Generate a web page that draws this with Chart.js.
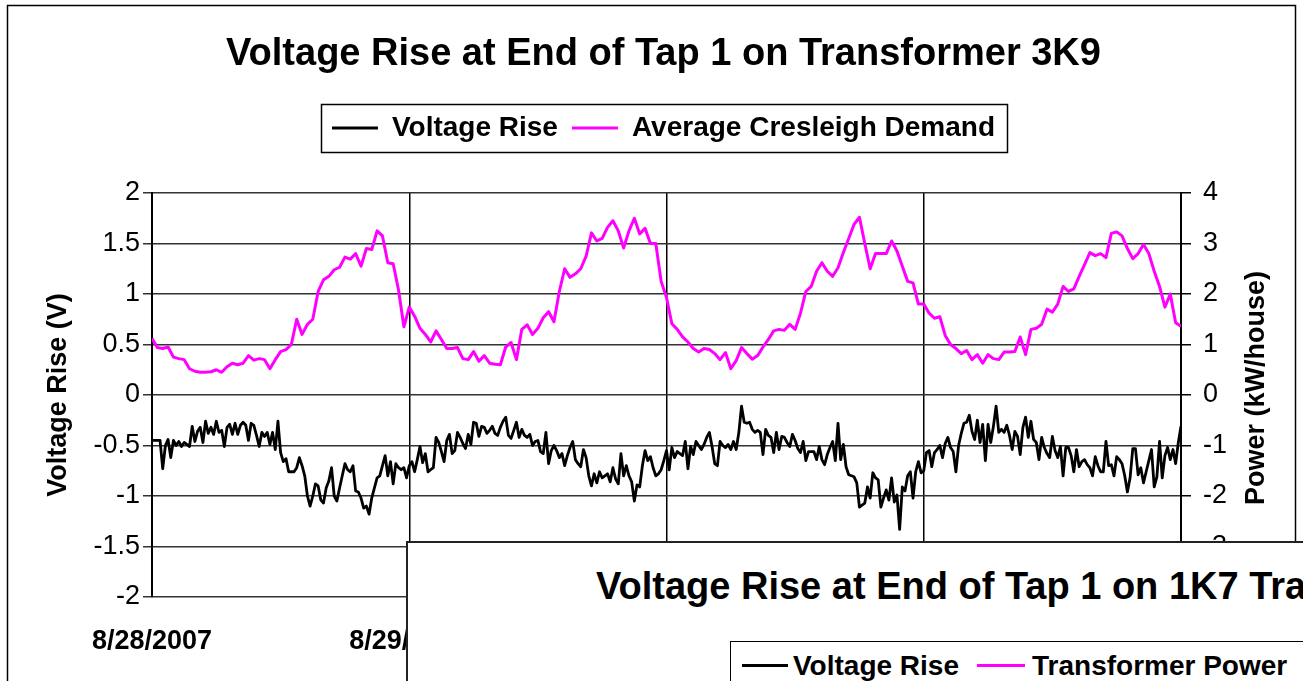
<!DOCTYPE html>
<html>
<head>
<meta charset="utf-8">
<script src="https://cdn.jsdelivr.net/npm/chart.js@4.4.1/dist/chart.umd.min.js"></script>
<style>
  html, body { margin: 0; padding: 0; background: #fff; }
  #wrap { position: relative; width: 1303px; height: 681px; overflow: hidden; }
  #c { position: absolute; left: 0; top: 0; }
  #overlay { position: absolute; left: 406px; top: 541px; width: 1000px; height: 200px;
             background: #fff; border-top: 2px solid #222; border-left: 2px solid #222; box-sizing: border-box;
             font-family: 'Liberation Sans', Arial, Helvetica, sans-serif; color: #000; }
  #ov-title { position: absolute; left: 188px; top: 21px; font-size: 38px; font-weight: bold; line-height: 44px; white-space: nowrap; }
  #ov-legend { position: absolute; left: 322px; top: 98px; width: 575px; height: 80px; border: 1.5px solid #000; box-sizing: border-box; }
  .ov-item { position: absolute; top: 8px; font-size: 28px; font-weight: bold; line-height: 32px; white-space: nowrap; }
  .ov-line { position: absolute; top: 22px; height: 3px; }
</style>
</head>
<body>
<div id="wrap">
  <canvas id="c" width="1303" height="681"></canvas>
  <div id="overlay">
    <div id="ov-title">Voltage Rise at End of Tap 1 on 1K7 Transformer</div>
    <div id="ov-legend">
      <div class="ov-line" style="left:11px;width:46px;background:#000"></div>
      <div class="ov-item" style="left:62px">Voltage Rise</div>
      <div class="ov-line" style="left:246px;width:48px;background:#ff00ff"></div>
      <div class="ov-item" style="left:301px">Transformer Power</div>
    </div>
  </div>
</div>
<script>
const FONT = "'Liberation Sans', Arial, Helvetica, sans-serif";
const chartTitle = 'Voltage Rise at End of Tap 1 on Transformer 3K9';
const seriesNames = ['Voltage Rise', 'Average Cresleigh Demand'];
const dateLabels = ['8/28/2007', '8/29/2007', '8/30/2007', '8/31/2007', '9/1/2007'];
const voltageStepHours = 0.25;   // 15-minute readings
const demandStepHours = 0.5;     // 30-minute readings

// Voltage rise (V), every 15 minutes from 8/28/2007 00:00 to 9/1/2007 00:00
const voltageRise = [
  // 8/28
  -0.45,-0.45,-0.45,-0.45,-0.73,-0.50,-0.44,-0.62,-0.45,-0.50,
  -0.46,-0.51,-0.47,-0.49,-0.51,-0.31,-0.46,-0.36,-0.32,-0.47,
  -0.26,-0.38,-0.32,-0.39,-0.26,-0.37,-0.35,-0.51,-0.32,-0.29,
  -0.39,-0.28,-0.39,-0.30,-0.27,-0.30,-0.45,-0.28,-0.30,-0.40,
  -0.51,-0.37,-0.41,-0.37,-0.49,-0.37,-0.54,-0.26,-0.57,-0.66,
  -0.63,-0.76,-0.76,-0.76,-0.72,-0.62,-0.70,-0.80,-1.00,-1.10,
  -1.00,-0.88,-0.90,-1.04,-1.07,-0.92,-0.85,-0.72,-1.00,-1.05,
  -0.92,-0.80,-0.68,-0.74,-0.76,-0.70,-0.95,-0.96,-1.02,-1.12,
  -1.10,-1.18,-1.02,-0.92,-0.82,-0.80,-0.70,-0.60,-0.80,-0.66,
  -0.88,-0.68,-0.72,-0.74,-0.72,-0.82,
  // 8/29
  -0.70,-0.66,-0.76,-0.64,-0.51,-0.67,-0.58,-0.76,-0.74,-0.72,
  -0.42,-0.47,-0.56,-0.66,-0.45,-0.39,-0.58,-0.55,-0.37,-0.42,
  -0.48,-0.53,-0.39,-0.49,-0.27,-0.28,-0.41,-0.31,-0.32,-0.38,
  -0.35,-0.31,-0.38,-0.40,-0.32,-0.26,-0.22,-0.40,-0.43,-0.35,
  -0.27,-0.42,-0.34,-0.40,-0.42,-0.39,-0.50,-0.46,-0.45,-0.56,
  -0.58,-0.37,-0.68,-0.55,-0.50,-0.55,-0.62,-0.58,-0.70,-0.60,
  -0.52,-0.46,-0.64,-0.68,-0.71,-0.54,-0.62,-0.80,-0.90,-0.78,
  -0.87,-0.76,-0.82,-0.80,-0.78,-0.86,-0.72,-0.83,-0.88,-0.58,
  -0.80,-0.70,-0.80,-0.86,-1.05,-0.89,-0.91,-0.70,-0.55,-0.65,
  -0.61,-0.72,-0.80,-0.78,-0.74,-0.65,
  // 8/30
  -0.55,-0.74,-0.52,-0.62,-0.56,-0.58,-0.60,-0.46,-0.73,-0.51,
  -0.59,-0.46,-0.50,-0.54,-0.49,-0.42,-0.37,-0.51,-0.68,-0.70,
  -0.46,-0.50,-0.52,-0.49,-0.54,-0.46,-0.54,-0.37,-0.11,-0.27,
  -0.28,-0.27,-0.34,-0.37,-0.35,-0.37,-0.59,-0.34,-0.40,-0.42,
  -0.57,-0.37,-0.54,-0.41,-0.42,-0.47,-0.51,-0.39,-0.45,-0.53,
  -0.57,-0.46,-0.65,-0.56,-0.56,-0.56,-0.64,-0.51,-0.64,-0.69,
  -0.59,-0.52,-0.46,-0.65,-0.28,-0.64,-0.49,-0.71,-0.79,-0.80,
  -0.81,-0.87,-1.11,-1.09,-1.07,-0.91,-1.02,-0.77,-0.82,-0.84,
  -1.11,-1.02,-0.94,-1.04,-0.82,-1.06,-0.99,-1.33,-0.91,-0.95,
  -0.80,-0.76,-1.02,-0.76,-0.66,-0.77,
  // 8/31
  -0.75,-0.57,-0.55,-0.71,-0.57,-0.54,-0.50,-0.62,-0.48,-0.42,
  -0.52,-0.56,-0.76,-0.50,-0.38,-0.28,-0.27,-0.20,-0.36,-0.44,
  -0.25,-0.47,-0.29,-0.65,-0.29,-0.47,-0.31,-0.11,-0.37,-0.34,
  -0.37,-0.30,-0.40,-0.54,-0.36,-0.41,-0.59,-0.32,-0.22,-0.42,
  -0.26,-0.44,-0.47,-0.64,-0.42,-0.52,-0.58,-0.62,-0.41,-0.55,
  -0.62,-0.51,-0.80,-0.52,-0.52,-0.60,-0.76,-0.54,-0.71,-0.66,
  -0.64,-0.69,-0.72,-0.80,-0.61,-0.70,-0.76,-0.76,-0.46,-0.70,
  -0.69,-0.80,-0.61,-0.64,-0.68,-0.80,-0.96,-0.82,-0.53,-0.53,
  -0.79,-0.72,-0.87,-0.76,-0.65,-0.54,-0.91,-0.81,-0.46,-0.82,
  -0.60,-0.52,-0.64,-0.54,-0.68,-0.47,-0.31
];

// Average Cresleigh demand (kW/house), every 30 minutes
const avgDemand = [
  1.12,0.94,0.92,0.95,0.75,0.72,0.70,0.52,0.47,0.45,
  0.45,0.46,0.50,0.45,0.56,0.63,0.60,0.63,0.78,0.69,
  0.72,0.70,0.52,0.70,0.86,0.90,1.00,1.50,1.20,1.40,
  1.50,2.05,2.28,2.35,2.48,2.53,2.73,2.69,2.80,2.55,
  2.90,2.88,3.25,3.15,2.62,2.60,2.08,1.35,
  1.74,1.56,1.32,1.20,1.05,1.27,1.10,0.92,0.92,0.94,
  0.72,0.70,0.86,0.67,0.78,0.63,0.61,0.60,0.95,1.04,
  0.70,1.30,1.39,1.20,1.32,1.53,1.65,1.45,2.05,2.50,
  2.33,2.40,2.50,2.75,3.21,3.05,3.10,3.32,3.45,3.25,
  2.91,3.25,3.50,3.19,3.30,3.00,3.00,2.25,
  1.93,1.41,1.30,1.15,1.05,0.92,0.85,0.92,0.90,0.82,
  0.70,0.84,0.52,0.68,0.94,0.82,0.71,0.78,0.95,1.10,
  1.27,1.30,1.28,1.40,1.30,1.62,2.05,2.15,2.45,2.62,
  2.45,2.35,2.52,2.82,3.10,3.38,3.52,3.00,2.50,2.80,
  2.80,2.80,3.05,2.85,2.55,2.25,2.22,1.80,
  1.80,1.62,1.52,1.55,1.18,1.00,0.92,0.82,0.88,0.70,
  0.80,0.63,0.80,0.72,0.70,0.85,0.85,0.86,1.15,0.80,
  1.30,1.32,1.40,1.70,1.64,1.80,2.15,2.05,2.10,2.35,
  2.58,2.82,2.76,2.80,2.72,3.20,3.23,3.15,2.90,2.70,
  2.80,2.98,2.80,2.45,2.15,1.74,2.00,1.43,1.36
];

const leftTicks = { min: -2, max: 2, step: 0.5 };
const rightTicks = { min: -4, max: 4, step: 1 };

const toPoints = (arr, step) => arr.map((v, i) => ({ x: i * step, y: v }));
const plainNum = v => String(Math.round(v * 10) / 10);

const framePlugin = {
  id: 'frame',
  beforeDraw(chart) {
    const c = chart.ctx;
    c.save();
    c.fillStyle = '#fff';
    c.fillRect(0, 0, chart.width, chart.height);
    c.strokeStyle = '#000';
    c.lineWidth = 1.5;
    c.strokeRect(7.5, 5.5, 1288, 720);
    c.restore();
  },
  afterDraw(chart) {
    const c = chart.ctx;
    const hb = chart.legend.legendHitBoxes;
    if (hb && hb.length) {
      const l = hb[0].left - 11;
      const last = hb[hb.length - 1];
      const r = last.left + last.width + 12;
      const t = hb[0].top - 10;
      const b = hb[0].top + hb[0].height + 10;
      c.save();
      c.strokeStyle = '#000';
      c.lineWidth = 1.5;
      c.strokeRect(Math.round(l) + 0.5, Math.round(t) + 0.5, Math.round(r - l), Math.round(b - t));
      c.restore();
    }
    // right axis title, reading bottom-to-top like the left one
    c.save();
    c.translate(1257, 388);
    c.rotate(-Math.PI / 2);
    c.font = 'bold 27px ' + FONT;
    c.fillStyle = '#000';
    c.textAlign = 'center';
    c.textBaseline = 'middle';
    c.fillText('Power (kW/house)', 0, 0);
    c.restore();
  }
};

new Chart(document.getElementById('c'), {
  type: 'line',
  data: {
    datasets: [
      { label: seriesNames[0], data: toPoints(voltageRise, voltageStepHours), yAxisID: 'y',
        borderColor: '#000000', backgroundColor: '#000000', borderWidth: 2.8,
        pointRadius: 0, tension: 0, borderJoinStyle: 'round' },
      { label: seriesNames[1], data: toPoints(avgDemand, demandStepHours), yAxisID: 'y1',
        borderColor: '#ff00ff', backgroundColor: '#ff00ff', borderWidth: 3,
        pointRadius: 0, tension: 0, borderJoinStyle: 'round' }
    ]
  },
  options: {
    responsive: false,
    animation: false,
    events: [],
    layout: { padding: { top: 5, left: 24, right: 0, bottom: 0 } },
    plugins: {
      title: { display: true, text: chartTitle, color: '#000',
               font: { family: FONT, size: 38, weight: 'bold' }, padding: { top: 27, bottom: 22.5 } },
      legend: { display: true, position: 'top',
                labels: { boxWidth: 46, boxHeight: 3, padding: 14, color: '#000',
                          font: { family: FONT, size: 28, weight: 'bold' },
                          generateLabels: (chart) => Chart.defaults.plugins.legend.labels.generateLabels(chart)
                            .map(l => Object.assign(l, { lineWidth: 0 })) } },
      subtitle: { display: true, text: '', weight: 500, font: { size: 10 }, padding: { top: 28.9, bottom: 0 } },
      tooltip: { enabled: false }
    },
    scales: {
      x: {
        type: 'linear', min: 0, max: 96,
        ticks: { stepSize: 24, autoSkip: false, maxRotation: 0, color: '#000', padding: 28,
                 font: { family: FONT, size: 27, weight: 'bold' },
                 callback: (v) => dateLabels[Math.round(v / 24)] },
        grid: { color: '#000', lineWidth: 1.5, drawTicks: false },
        border: { display: false },
        afterFit: (s) => { s.height = 84; }
      },
      y: {
        position: 'left', min: leftTicks.min, max: leftTicks.max,
        ticks: { stepSize: leftTicks.step, color: '#000', padding: 3, font: { family: FONT, size: 27 },
                 callback: plainNum },
        grid: { color: '#333', lineWidth: 1.5, tickLength: 9 },
        border: { color: '#000', width: 2 },
        title: { display: true, text: 'Voltage Rise (V)', color: '#000',
                 font: { family: FONT, size: 27, weight: 'bold' }, padding: { top: 18, bottom: 0 } },
        afterFit: (s) => { s.width = 128; }
      },
      y1: {
        position: 'right', min: rightTicks.min, max: rightTicks.max,
        ticks: { stepSize: rightTicks.step, color: '#000', padding: 12, font: { family: FONT, size: 27 },
                 callback: plainNum },
        grid: { drawOnChartArea: false, color: '#000', lineWidth: 1.5, tickLength: 10 },
        border: { color: '#000', width: 2 },
        afterFit: (s) => { s.width = 122; }
      }
    }
  },
  plugins: [framePlugin]
});
</script>
</body>
</html>
